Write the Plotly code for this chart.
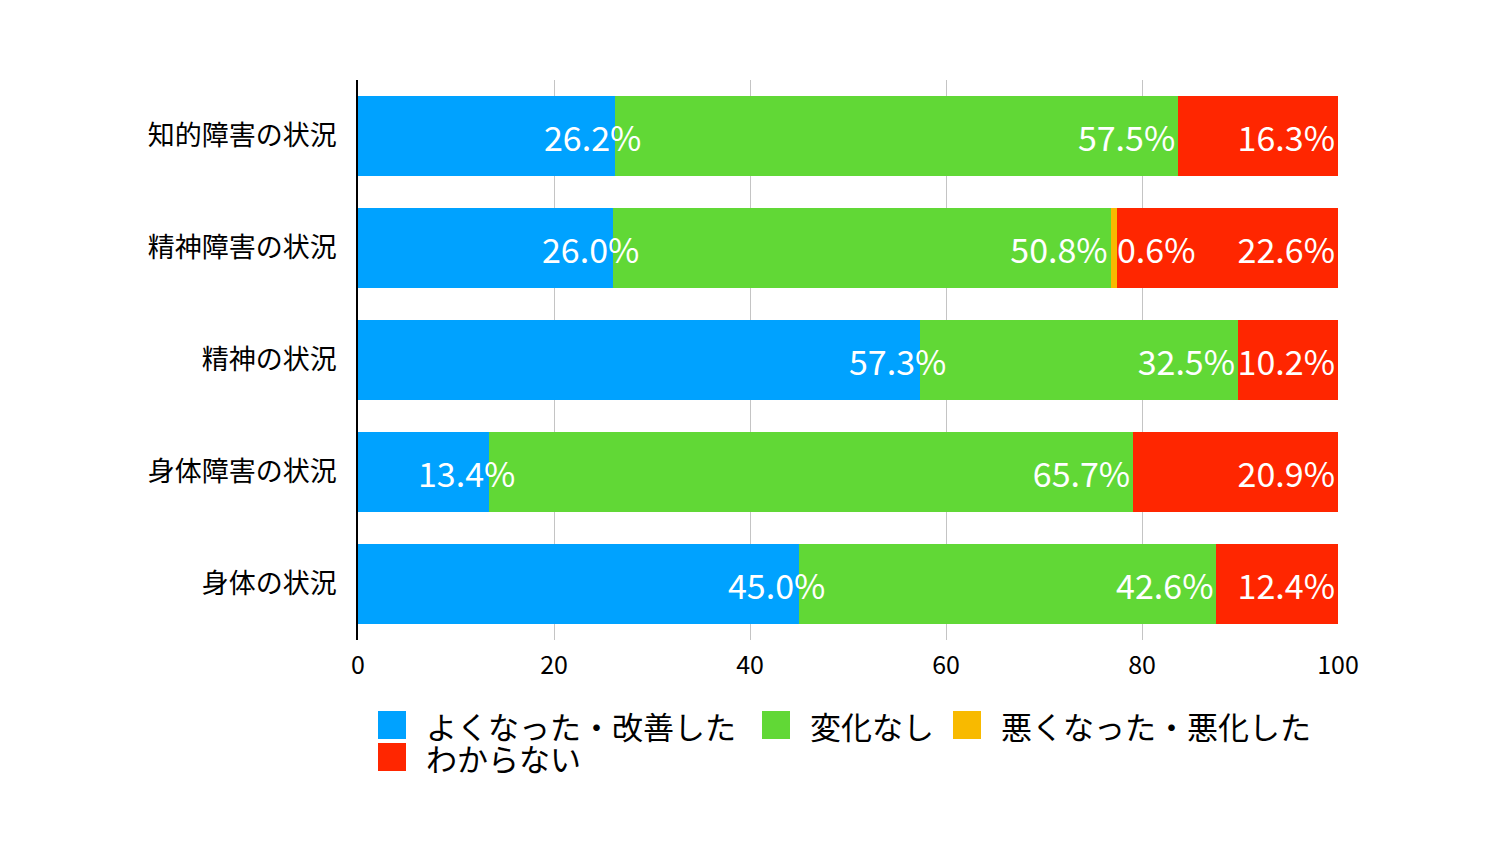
import plotly.graph_objects as go

# ---------------- data ----------------
categories = ["知的障害の状況", "精神障害の状況", "精神の状況", "身体障害の状況", "身体の状況"]
series_names = ["よくなった・改善した", "変化なし", "悪くなった・悪化した", "わからない"]
improved = [26.2, 26.0, 57.3, 13.4, 45.0]
no_change = [57.5, 50.8, 32.5, 65.7, 42.6]
worse = [0.0, 0.6, 0.0, 0.0, 0.0]
unknown = [16.3, 22.6, 10.2, 20.9, 12.4]
x_ticks = [0, 20, 40, 60, 80, 100]

# ---------------- style ----------------
colors = ["#00A2FF", "#61D836", "#F8BA00", "#FF2600"]
FONT = "Noto Sans CJK JP"
W, H = 1500, 851
PL, PR, PT, PB = 358, 1338, 80, 640  # plot area in pixels
LABEL_FONT = dict(family=FONT, size=34, color="white")

fig = go.Figure()
values = [improved, no_change, worse, unknown]
for k, (name, vals, col) in enumerate(zip(series_names, values, colors)):
    # series 0 and 2 get their labels as annotations (they overflow their segment)
    use_bar_text = k in (1, 3)
    fig.add_trace(go.Bar(
        y=categories, x=vals, name=name, orientation="h",
        marker=dict(color=col, line=dict(width=0)),
        text=[("" if (v == 0 or not use_bar_text) else f"{v:.1f}%") for v in vals],
        textposition="inside", insidetextanchor="end", textangle=0,
        constraintext="none", cliponaxis=False,
        textfont=LABEL_FONT,
        showlegend=False, hoverinfo="skip",
    ))

# "improved" labels: right-aligned slightly past the end of the blue segment
for i, v in enumerate(improved):
    fig.add_annotation(
        x=v, y=categories[i], xref="x", yref="y", text=f"{v:.1f}%",
        showarrow=False, xanchor="right", xshift=28, font=LABEL_FONT,
    )

# small "worse" values: label just to the right of the yellow segment
for i, v in enumerate(worse):
    if v > 0:
        fig.add_annotation(
            x=improved[i] + no_change[i] + worse[i], y=categories[i],
            xref="x", yref="y", text=f"{v:.1f}%", showarrow=False,
            xanchor="left", xshift=-2, font=LABEL_FONT,
        )

# manual legend (large square swatches)
def px_x(px):
    return (px - PL) / (PR - PL)

def px_y(py):
    return (PB - py) / (PB - PT)

legend_items = [  # (square left px, row center px)
    (378, 725), (762, 725), (953, 725), (378, 757),
]
SQ = 28
for (sx, cy), name, col in zip(legend_items, series_names, colors):
    fig.add_shape(type="rect", xref="paper", yref="paper",
                  x0=px_x(sx), x1=px_x(sx + SQ),
                  y0=px_y(cy + SQ / 2), y1=px_y(cy - SQ / 2),
                  fillcolor=col, line=dict(width=0))
    fig.add_annotation(xref="paper", yref="paper", x=px_x(sx + SQ + 18), y=px_y(cy),
                       text=name, showarrow=False, xanchor="left", yanchor="middle",
                       font=dict(family=FONT, size=31, color="#000000"))

fig.update_layout(
    barmode="stack", bargap=0.285,
    width=W, height=H,
    margin=dict(l=PL, r=W - PR, t=PT, b=H - PB, pad=0),
    plot_bgcolor="white", paper_bgcolor="white",
    font=dict(family=FONT, color="#000000"),
    showlegend=False,
)
fig.update_xaxes(
    range=[0, 100], tickvals=x_ticks, ticktext=[str(t) for t in x_ticks],
    showgrid=True, gridcolor="#C4C4C4", gridwidth=1,
    zeroline=False, showline=False, ticks="", ticklabelstandoff=8,
    tickfont=dict(family=FONT, size=25, color="#000000"),
    fixedrange=True,
)
fig.update_yaxes(
    autorange="reversed", showgrid=False, showline=True, linecolor="#000000",
    linewidth=1.5, ticks="", ticklabelstandoff=14,
    tickfont=dict(family=FONT, size=27, color="#000000"),
    fixedrange=True,
)

fig.write_html("out.html")
